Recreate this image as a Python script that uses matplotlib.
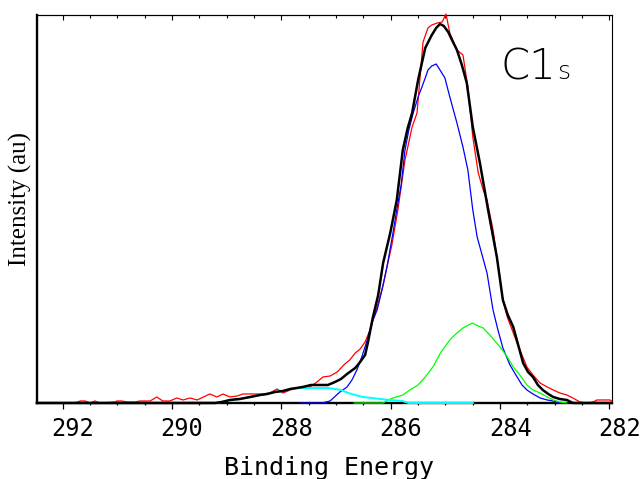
import matplotlib
matplotlib.use("Agg")
import matplotlib.pyplot as plt
from matplotlib.ticker import MultipleLocator
from matplotlib.transforms import ScaledTranslation

# measured spectrum (raw), binding energy in eV, intensity in arbitrary units
raw_be = [292.47, 291.78, 291.68, 291.59, 291.50, 291.41, 291.32, 291.04, 291.01, 290.92,
          290.82, 290.68, 290.59, 290.40, 290.28, 290.17, 290.04, 289.91, 289.80, 289.67,
          289.54, 289.31, 289.18, 289.07, 288.94, 288.81, 288.70, 288.57, 288.45, 288.34,
          288.21, 288.08, 287.97, 287.84, 287.72, 287.61, 287.48, 287.35, 287.24, 287.11,
          286.98, 286.84, 286.75, 286.65, 286.56, 286.47, 286.38, 286.25, 286.14, 286.07,
          285.98, 285.87, 285.74, 285.61, 285.52, 285.41, 285.32, 285.25, 285.15, 285.06,
          284.99, 284.92, 284.79, 284.68, 284.59, 284.50, 284.40, 284.31, 284.24, 284.13,
          284.06, 283.95, 283.87, 283.78, 283.69, 283.60, 283.51, 283.40, 283.27, 283.14,
          283.03, 282.91, 282.78, 282.67, 282.54, 282.41, 282.30, 282.23, 282.12, 281.99,
          281.96]
raw_int = [0, 0, 2, 2, 0, 2, 0, 1, 2, 2,
           1, 1, 2, 2, 6, 2, 2, 5, 3, 5,
           3, 9, 6, 9, 6, 7, 9, 9, 9, 9,
           10, 14, 10, 13, 15, 15, 16, 21, 26, 27,
           31, 39, 43, 50, 54, 61, 73, 96, 118, 136,
           158, 193, 243, 276, 290, 361, 375, 378, 380, 381,
           389, 370, 353, 348, 316, 266, 230, 213, 203, 173,
           146, 103, 86, 73, 60, 48, 36, 28, 20, 16,
           13, 10, 8, 5, 1, 0, 1, 3, 3, 3,
           2]

# fitted envelope
fit_be = [292.47,
          289.21, 289.09, 288.94, 288.76, 288.57, 288.39, 288.26, 288.12, 287.97, 287.84,
          287.72, 287.61, 287.46, 287.29, 287.15, 287.02, 286.91, 286.80, 286.65, 286.56,
          286.47, 286.42, 286.33, 286.23, 286.14, 286.01, 285.89, 285.78, 285.69, 285.61,
          285.50, 285.37, 285.25, 285.17, 285.10, 285.03, 284.95, 284.88, 284.79, 284.70,
          284.61, 284.50, 284.37, 284.22, 284.06, 283.95, 283.86, 283.76, 283.67, 283.58,
          283.49, 283.40, 283.31, 283.22, 283.12, 283.03, 282.91, 282.78, 282.67,
          281.96]
fit_int = [0,
           0, 1, 3, 4, 6, 8, 9, 11, 12, 14,
           15, 16, 18, 18, 18, 21, 24, 29, 35, 41,
           48, 60, 85, 108, 140, 170, 203, 253, 275, 290,
           323, 355, 368, 375, 379, 377, 371, 363, 353, 338,
           320, 276, 240, 193, 146, 103, 88, 76, 58, 40,
           31, 26, 18, 13, 9, 6, 4, 3, 0,
           0]

# component peaks
p1_be = [287.66, 287.26, 287.11, 286.93, 286.80, 286.71, 286.62, 286.53, 286.43, 286.34,
         286.25, 286.16, 286.07, 285.96, 285.89, 285.81, 285.74, 285.67, 285.59, 285.50,
         285.43, 285.37, 285.32, 285.25, 285.17, 285.10, 285.01, 284.92, 284.79, 284.68,
         284.59, 284.50, 284.42, 284.33, 284.24, 284.13, 284.04, 283.95, 283.82, 283.69,
         283.60, 283.51, 283.40, 283.27, 283.14, 283.03, 282.91]
p1_int = [0, 0, 2, 11, 16, 23, 33, 46, 63, 81,
          93, 113, 136, 170, 193, 218, 253, 273, 290, 306,
          316, 325, 333, 337, 339, 333, 325, 306, 280, 256,
          233, 193, 166, 148, 130, 93, 73, 55, 38, 26,
          18, 13, 9, 5, 3, 2, 0]

p2_be = [286.67, 286.14, 286.05, 285.96, 285.78, 285.65, 285.50, 285.37, 285.23, 285.08,
         284.92, 284.79, 284.68, 284.51, 284.40, 284.31, 284.19, 284.00, 283.87, 283.76,
         283.64, 283.51, 283.40, 283.27, 283.14, 283.03, 282.91, 282.78]
p2_int = [0, 0, 3, 5, 8, 13, 18, 26, 36, 51,
          63, 70, 75, 80, 77, 75, 68, 56, 46, 36,
          28, 18, 13, 10, 6, 3, 1, 0]

p3_be = [289.21, 289.09, 288.94, 288.76, 288.57, 288.39, 288.26, 288.12, 287.97, 287.84,
         287.64, 287.39, 287.15, 287.02, 286.91, 286.78, 286.65, 286.51, 286.34, 286.20,
         286.03, 285.79, 285.67, 284.50]
p3_int = [0, 1, 3, 4, 6, 8, 9, 11, 12, 14,
          15, 15, 15, 14, 13, 10, 8, 6, 5, 4,
          3, 2, 0, 0]

major_ticks = [292, 290, 288, 286, 284, 282]

fig = plt.figure(figsize=(6.43, 4.79), dpi=100)
ax = fig.add_axes([0.0571, 0.1587, 0.8942, 0.81])

ax.plot(raw_be, raw_int, color="#ff0000", lw=0.9, zorder=3, clip_on=False)
ax.plot(p1_be, p1_int, color="#0000ff", lw=0.9, zorder=4, clip_on=False)
ax.plot(p2_be, p2_int, color="#00ff00", lw=0.9, zorder=4, clip_on=False)
ax.plot(p3_be, p3_int, color="#00ffff", lw=1.4, zorder=4, clip_on=False)
ax.plot(fit_be, fit_int, color="black", lw=1.8, zorder=5, clip_on=False)

ax.set_xlim(292.475, 281.96)
ax.set_ylim(0, 388)
ax.set_yticks([])

ax.set_xticks(major_ticks)
ax.set_xticklabels([str(t) for t in major_ticks], family="DejaVu Sans Mono", fontsize=17)
ax.xaxis.set_minor_locator(MultipleLocator(0.5))
ax.tick_params(axis="x", which="major", direction="out", length=4.3, width=0.9, pad=6)
ax.tick_params(axis="x", which="minor", direction="out", length=1.5, width=0.9)
for lab in ax.get_xticklabels():
    lab.set_transform(lab.get_transform() + ScaledTranslation(0.10, 0, fig.dpi_scale_trans))

for side in ["left", "bottom"]:
    ax.spines[side].set_linewidth(1.7)
for side in ["top", "right"]:
    ax.spines[side].set_linewidth(0.8)

# inward ticks along the top edge
sec = ax.secondary_xaxis("top")
sec.set_xticks(major_ticks)
sec.xaxis.set_minor_locator(MultipleLocator(0.5))
sec.tick_params(axis="x", which="major", direction="in", length=3.6, width=0.8, labeltop=False)
sec.tick_params(axis="x", which="minor", direction="in", length=2.2, width=0.8)
sec.spines["top"].set_linewidth(0.8)

fig.text(329.5 / 643, 1 - 475 / 479, "Binding Energy", family="DejaVu Sans Mono",
         fontsize=18, ha="center", va="baseline")
fig.text(20 / 643, 1 - 199 / 479, "Intensity (au)", family="Liberation Serif",
         fontsize=18, rotation=90, ha="center", va="center")

# peak label
fig.text(500 / 643, 1 - 79 / 479, "C1", family="DejaVu Sans", fontweight="light",
         fontsize=30, ha="left", va="baseline")
fig.text(557 / 643, 1 - 79 / 479, "s", family="DejaVu Sans", fontweight="light",
         fontsize=18, ha="left", va="baseline")

fig.savefig("out.png", dpi=100)
